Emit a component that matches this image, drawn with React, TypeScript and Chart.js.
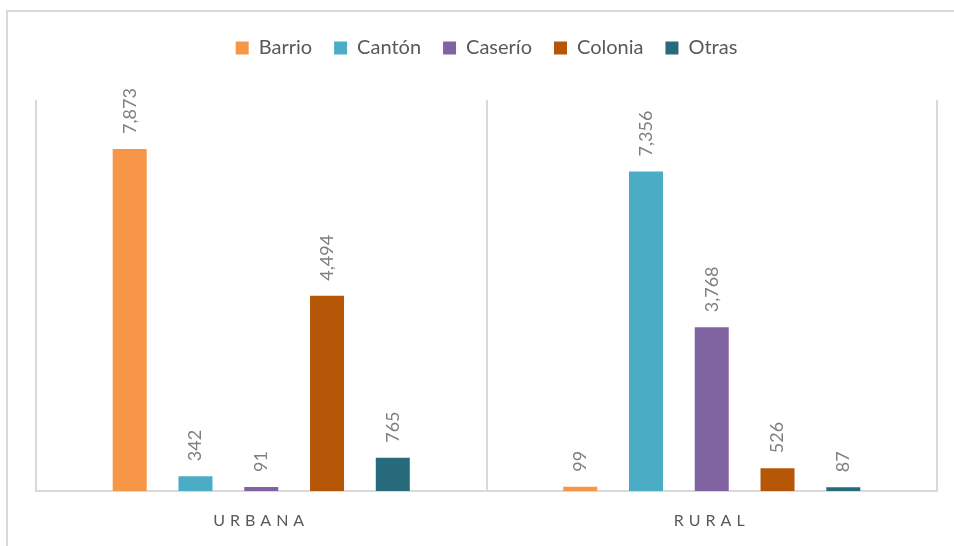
import React, { useEffect, useRef } from "react";
import { Chart, registerables } from "chart.js";

Chart.register(...registerables);

const categories = ["URBANA", "RURAL"];
const seriesNames = ["Barrio", "Cantón", "Caserío", "Colonia", "Otras"];
const barrio = [7873, 99];
const canton = [342, 7356];
const caserio = [91, 3768];
const colonia = [4494, 526];
const otras = [765, 87];
const seriesColors = ["#F79646", "#4BACC6", "#8064A2", "#B65708", "#276A7C"];
const yMax = 9000;

const FONT = "Lato, 'Open Sans', sans-serif";

const valueLabels = {
  id: "valueLabels",
  afterDatasetsDraw(chart: any) {
    const ctx = chart.ctx;
    ctx.save();
    ctx.font = `18px ${FONT}`;
    ctx.fillStyle = "#7F7F7F";
    ctx.textAlign = "left";
    ctx.textBaseline = "middle";
    chart.data.datasets.forEach((ds: any, i: number) => {
      const meta = chart.getDatasetMeta(i);
      meta.data.forEach((bar: any, j: number) => {
        const v = ds.data[j];
        ctx.save();
        ctx.translate(bar.x, bar.y - 15);
        ctx.rotate(-Math.PI / 2);
        ctx.fillText(v.toLocaleString("en-US"), 0, 0);
        ctx.restore();
      });
    });
    ctx.restore();
  },
};

const spacingPlugin = {
  id: "spacingPlugin",
  beforeInit(chart: any) {
    const legend = chart.legend;
    if (legend) {
      const orig = legend.fit;
      legend.fit = function () {
        orig.call(this);
        this.height += 32;
      };
    }
  },
  beforeDraw(chart: any) {
    const s = chart.scales.x;
    if (s && !s._spaced) {
      const orig = s.drawLabels;
      s.drawLabels = function (area: any) {
        const c = this.ctx;
        const prev = c.letterSpacing;
        c.letterSpacing = "5px";
        orig.call(this, area);
        c.letterSpacing = prev || "0px";
      };
      s._spaced = true;
    }
  },
};

export default function App() {
  const ref = useRef<HTMLCanvasElement>(null);
  useEffect(() => {
    const values = [barrio, canton, caserio, colonia, otras];
    const chart = new Chart(ref.current!, {
      type: "bar",
      data: {
        labels: categories,
        datasets: seriesNames.map((name, i) => ({
          label: name,
          data: values[i],
          backgroundColor: seriesColors[i],
          borderWidth: 0,
          categoryPercentage: 0.73,
          barPercentage: 0.517,
        })),
      },
      options: {
        animation: false,
        responsive: false,
        maintainAspectRatio: false,
        layout: { padding: { left: 36, right: 17, top: 16, bottom: 0 } },
        plugins: {
          legend: {
            position: "top",
            labels: {
              boxWidth: 13,
              boxHeight: 13,
              padding: 22,
              color: "#595959",
              font: { family: FONT, size: 20 },
            },
          },
          tooltip: { enabled: false },
        },
        scales: {
          x: {
            grid: { color: "#D9D9D9", lineWidth: 2, drawTicks: false, offset: true },
            border: { color: "#D9D9D9", width: 2 },
            ticks: {
              color: "#595959",
              padding: 20,
              font: { family: FONT, size: 16 },
            },
            afterFit(scale: any) {
              scale.height = 55;
            },
          },
          y: {
            display: false,
            min: 0,
            max: yMax,
          },
        },
      },
      plugins: [valueLabels, spacingPlugin],
    });
    return () => chart.destroy();
  }, []);
  return (
    <div style={{ position: "absolute", left: 0, top: 0, width: 954, height: 546, overflow: "hidden", background: "#fff" }}>
      <div
        style={{
          position: "absolute",
          left: 6,
          top: 10,
          width: 948,
          height: 536,
          borderTop: "2px solid #D9D9D9",
          borderLeft: "2px solid #D9D9D9",
          boxSizing: "border-box",
        }}
      />
      <canvas ref={ref} width={954} height={546} style={{ position: "absolute", left: 0, top: 0 }} />
    </div>
  );
}
